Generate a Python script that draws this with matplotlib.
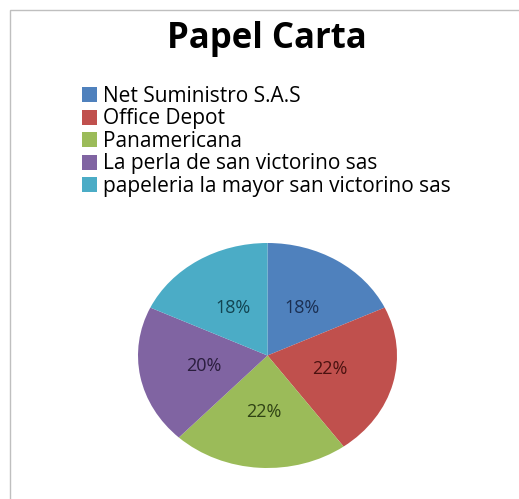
import matplotlib.pyplot as plt
from matplotlib.patches import Rectangle

proveedores = ['Net Suministro S.A.S', 'Office Depot', 'Panamericana',
               'La perla de san victorino sas', 'papeleria la mayor san victorino sas']
valores = [18, 22, 22, 20, 18]
colores = ['#4F81BD', '#C0504D', '#9BBB59', '#8064A2', '#4BACC6']
colores_txt = ['#1b2f52', '#4a1210', '#2f4214', '#2a1d3d', '#124452']

plt.rcParams['font.family'] = ['Open Sans', 'DejaVu Sans']

fig = plt.figure(figsize=(5.19, 4.99), dpi=100)
# marco del area del grafico (solo se ven borde superior e izquierdo)
fig.add_artist(Rectangle((10 / 519, -0.1), 1.2, 0.1 + 489 / 499, transform=fig.transFigure,
                         fill=False, edgecolor='#bfbfbf', lw=1))

ax = fig.add_axes([138 / 519, 31 / 499, 259 / 519, 225 / 499])
wedges, texts, autotexts = ax.pie(valores, colors=colores, startangle=90, counterclock=False,
                                  autopct='%1.0f%%', pctdistance=0.5,
                                  wedgeprops=dict(linewidth=0))
for t, c in zip(autotexts, colores_txt):
    t.set_color(c)
    t.set_fontsize(13)
ax.set_aspect('auto')
ax.set_xlim(-1, 1)
ax.set_ylim(-1, 1)

fig.text(267 / 519, 460 / 499, 'Papel Carta', ha='center', va='center',
         fontsize=25, fontweight='bold')

fig.legend(wedges, proveedores, loc='upper left', bbox_to_anchor=(82 / 519, 413 / 499),
           frameon=False, fontsize=15, handlelength=0.72, handleheight=0.72,
           handletextpad=0.3, labelspacing=0.07, borderaxespad=0, borderpad=0)

fig.savefig('out.png', dpi=100)
